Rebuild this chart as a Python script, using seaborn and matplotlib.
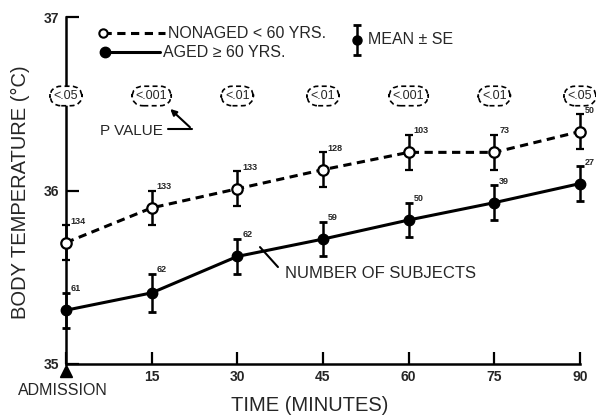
import numpy as np
import pandas as pd
import matplotlib.pyplot as plt
import seaborn as sns

minutes = [0, 15, 30, 45, 60, 75, 90]
nonaged_temp = [35.70, 35.90, 36.01, 36.12, 36.22, 36.22, 36.34]
nonaged_se = [0.10, 0.10, 0.10, 0.10, 0.10, 0.10, 0.10]
nonaged_n = [134, 133, 133, 128, 103, 73, 50]
aged_temp = [35.31, 35.41, 35.62, 35.72, 35.83, 35.93, 36.04]
aged_se = [0.10, 0.11, 0.10, 0.10, 0.10, 0.10, 0.10]
aged_n = [61, 62, 62, 59, 50, 39, 27]
p_values = ["<.05", "<.001", "<.01", "<.01", "<.001", "<.01", "<.05"]
x_labels = ["", "15", "30", "45", "60", "75", "90"]

sns.set_style("ticks")
plt.rcParams["font.family"] = ["Liberation Sans", "DejaVu Sans"]

fig = plt.figure(figsize=(5.96, 4.18), dpi=100)
ax = fig.add_axes([0.1107, 0.1292, 0.8624, 0.830])

# lines
sns.lineplot(x=minutes, y=nonaged_temp, ax=ax, color="k", lw=2.2,
             linestyle=(0, (2.7, 1.8)), zorder=2)
sns.lineplot(x=minutes, y=aged_temp, ax=ax, color="k", lw=2.2, zorder=2)

# mean +- SE
ax.errorbar(minutes, nonaged_temp, yerr=nonaged_se, fmt="o", ms=7.5,
            mfc="white", mec="k", mew=1.6, ecolor="k", elinewidth=1.8,
            capsize=3, capthick=2, zorder=3)
ax.errorbar(minutes, aged_temp, yerr=aged_se, fmt="o", ms=7.5,
            mfc="k", mec="k", ecolor="k", elinewidth=1.8,
            capsize=3, capthick=2, zorder=3)
for art in ax.lines + list(ax.collections):
    art.set_clip_on(False)

# number of subjects
for x, y, s, n in zip(minutes, nonaged_temp, nonaged_se, nonaged_n):
    ax.annotate(str(n), xy=(x, y + s), xytext=(3.5, 3), textcoords="offset points",
                fontsize=6.5, fontweight="bold", ha="left", va="center")
for x, y, s, n in zip(minutes, aged_temp, aged_se, aged_n):
    ax.annotate(str(n), xy=(x, y + s), xytext=(3.5, 3), textcoords="offset points",
                fontsize=6.5, fontweight="bold", ha="left", va="center")

# p values
for x, p in zip(minutes, p_values):
    ax.text(x, 36.545, p, ha="center", va="center", fontsize=9,
            bbox=dict(boxstyle="round,pad=0.3,rounding_size=0.9", fc="white",
                      ec="k", ls=(0, (3, 2)), lw=1.2), clip_on=False)

ax.text(5.95, 36.345, "P VALUE", fontsize=11, ha="left", va="center")
ax.plot([17.86, 22.06], [36.354, 36.354], color="k", lw=1.5)
ax.annotate("", xy=(17.9, 36.481), xytext=(22.06, 36.354),
            arrowprops=dict(arrowstyle="-|>", color="k", lw=1.5, mutation_scale=9))

ax.plot([33.97, 37.12], [35.674, 35.559], color="k", lw=1.5)
ax.text(38.35, 35.524, "NUMBER OF SUBJECTS", fontsize=12, ha="left", va="center")

# legend drawn by hand
ax.plot([6.48, 17.33], [36.908, 36.908], color="k", lw=2.2, linestyle=(0, (2.7, 1.8)))
ax.plot([6.48], [36.908], "o", ms=6, mfc="white", mec="k", mew=1.5)
ax.text(17.86, 36.908, "NONAGED < 60 YRS.", fontsize=11.5, ha="left", va="center")
ax.plot([6.83, 16.46], [36.798, 36.798], color="k", lw=2.2)
ax.plot([6.83], [36.798], "o", ms=7.5, color="k")
ax.text(16.98, 36.798, "AGED \u2265 60 YRS.", fontsize=11.5, ha="left", va="center")
ax.errorbar([50.95], [36.867], yerr=[0.085], fmt="o", ms=6.5, color="k",
            elinewidth=1.8, capsize=3, capthick=2)
ax.text(52.88, 36.873, "MEAN \u00b1 SE", fontsize=11.5, ha="left", va="center")

# admission marker
ax.plot([0], [34.962], "^", ms=8, color="k", clip_on=False)
ax.text(-0.5, 34.85, "ADMISSION", fontsize=11.5, ha="center", va="center")

ax.set_xlim(0, 90)
ax.set_ylim(35, 37)
ax.set_xticks(minutes)
ax.set_xticklabels(x_labels)
ax.set_yticks([35, 36, 37])
ax.set_yticklabels(["35", "36", "37"])
ax.tick_params(direction="in", length=9, width=1.6, labelsize=10, color="k")
ax.tick_params(axis="x", pad=4)
ax.tick_params(axis="y", pad=5)
for lab in ax.get_xticklabels() + ax.get_yticklabels():
    lab.set_fontweight("bold")
sns.despine(ax=ax)
for sp in ["left", "bottom"]:
    ax.spines[sp].set_linewidth(1.8)
    ax.spines[sp].set_color("k")
ax.set_xlabel("")
ax.set_ylabel("")

fig.text(0.52, 0.031, "TIME (MINUTES)", fontsize=14.5, ha="center", va="center")
fig.text(0.034, 0.54, "BODY TEMPERATURE (\u00b0C)", fontsize=14.5, rotation=90,
         ha="center", va="center")

fig.savefig("out.png", dpi=100)
